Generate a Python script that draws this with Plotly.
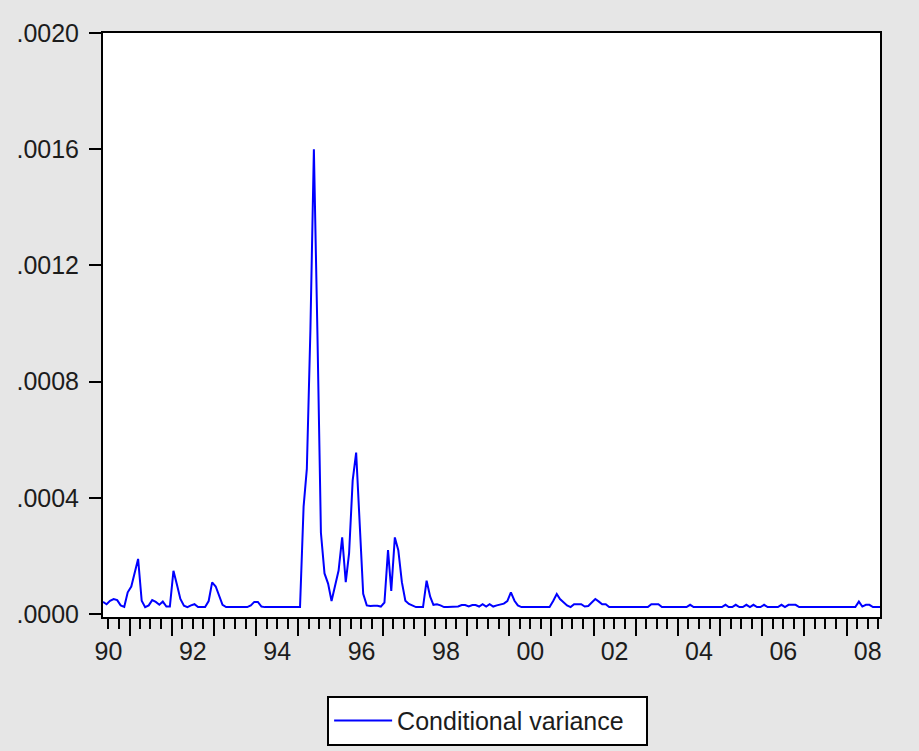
import plotly.graph_objects as go
import pandas as pd

# ---- data -------------------------------------------------------------
first_obs = "1990-05-16"          # monthly observations, 1990M05 .. 2008M10
cond_var = [
    # 1990 (May-Dec)
    4.2e-5, 3.4e-5, 4.6e-5, 5.2e-5, 4.8e-5, 3.0e-5, 2.5e-5, 7.5e-5,
    # 1991
    9.5e-5, 1.5e-4, 1.9e-4, 4.6e-5, 2.4e-5, 3.0e-5, 4.8e-5, 4.2e-5, 3.2e-5, 4.3e-5, 2.6e-5, 2.6e-5,
    # 1992
    1.49e-4, 1.0e-4, 5.2e-5, 2.9e-5, 2.4e-5, 3.0e-5, 3.4e-5, 2.4e-5, 2.4e-5, 2.4e-5, 4.5e-5, 1.09e-4,
    # 1993
    9.5e-5, 6.3e-5, 3.2e-5, 2.4e-5, 2.4e-5, 2.4e-5, 2.4e-5, 2.4e-5, 2.4e-5, 2.4e-5, 3.0e-5, 4.2e-5,
    # 1994
    4.2e-5, 2.6e-5, 2.4e-5, 2.4e-5, 2.4e-5, 2.4e-5, 2.4e-5, 2.4e-5, 2.4e-5, 2.4e-5, 2.4e-5, 2.4e-5,
    # 1995
    2.4e-5, 3.7e-4, 5.0e-4, 9.8e-4, 1.6e-3, 9.6e-4, 2.8e-4, 1.4e-4, 1.05e-4, 4.5e-5, 1.0e-4, 1.5e-4,
    # 1996
    2.64e-4, 1.1e-4, 2.1e-4, 4.6e-4, 5.56e-4, 2.8e-4, 7.0e-5, 3.0e-5, 2.8e-5, 2.9e-5, 2.9e-5, 2.6e-5,
    # 1997
    4.0e-5, 2.2e-4, 8.0e-5, 2.64e-4, 2.2e-4, 1.1e-4, 4.6e-5, 3.5e-5, 2.8e-5, 2.4e-5, 2.4e-5, 2.4e-5,
    # 1998
    1.15e-4, 6.0e-5, 3.2e-5, 3.4e-5, 3.0e-5, 2.4e-5, 2.4e-5, 2.4e-5, 2.4e-5, 2.6e-5, 3.1e-5, 3.1e-5,
    # 1999
    2.6e-5, 3.1e-5, 3.1e-5, 2.6e-5, 3.4e-5, 2.6e-5, 3.4e-5, 2.6e-5, 3.0e-5, 3.4e-5, 3.6e-5, 4.5e-5,
    # 2000
    7.5e-5, 4.6e-5, 3.0e-5, 2.4e-5, 2.4e-5, 2.4e-5, 2.4e-5, 2.4e-5, 2.4e-5, 2.4e-5, 2.4e-5, 2.4e-5,
    # 2001
    4.5e-5, 6.9e-5, 5.2e-5, 4.0e-5, 3.0e-5, 2.4e-5, 3.4e-5, 3.4e-5, 3.4e-5, 2.6e-5, 2.8e-5, 4.0e-5,
    # 2002
    5.2e-5, 4.3e-5, 3.4e-5, 3.4e-5, 2.4e-5, 2.4e-5, 2.4e-5, 2.4e-5, 2.4e-5, 2.4e-5, 2.4e-5, 2.4e-5,
    # 2003
    2.4e-5, 2.4e-5, 2.4e-5, 2.4e-5, 3.4e-5, 3.4e-5, 3.4e-5, 2.4e-5, 2.4e-5, 2.4e-5, 2.4e-5, 2.4e-5,
    # 2004
    2.4e-5, 2.4e-5, 2.4e-5, 3.2e-5, 2.4e-5, 2.4e-5, 2.4e-5, 2.4e-5, 2.4e-5, 2.4e-5, 2.4e-5, 2.4e-5,
    # 2005
    2.4e-5, 3.2e-5, 2.4e-5, 2.4e-5, 3.2e-5, 2.4e-5, 2.4e-5, 3.2e-5, 2.4e-5, 3.2e-5, 2.4e-5, 2.4e-5,
    # 2006
    3.2e-5, 2.4e-5, 2.4e-5, 2.4e-5, 2.4e-5, 3.2e-5, 2.4e-5, 3.2e-5, 3.2e-5, 3.2e-5, 2.4e-5, 2.4e-5,
    # 2007
    2.4e-5, 2.4e-5, 2.4e-5, 2.4e-5, 2.4e-5, 2.4e-5, 2.4e-5, 2.4e-5, 2.4e-5, 2.4e-5, 2.4e-5, 2.4e-5,
    # 2008 (Jan-Oct)
    2.4e-5, 2.4e-5, 2.4e-5, 4.3e-5, 2.6e-5, 3.2e-5, 3.2e-5, 2.4e-5, 2.4e-5, 2.4e-5,
]
series_name = "Conditional variance"

y_tick_vals = [0.0, 0.0004, 0.0008, 0.0012, 0.0016, 0.0020]
y_tick_text = [".0000", ".0004", ".0008", ".0012", ".0016", ".0020"]

year_ticks = list(range(1991, 2009))                 # year boundaries
label_years = [1990, 1992, 1994, 1996, 1998, 2000, 2002, 2004, 2006, 2008]
label_text = ["90", "92", "94", "96", "98", "00", "02", "04", "06", "08"]

# ---- figure -----------------------------------------------------------
dates = pd.date_range(start=first_obs, periods=len(cond_var), freq=pd.DateOffset(months=1))
x_range = [dates[0], dates[-1]]

FONT = "Liberation Sans, Arial, sans-serif"
TXT = "#1c1c1c"

fig = go.Figure()
fig.add_trace(go.Scatter(
    x=dates, y=cond_var, mode="lines", name=series_name,
    line=dict(color="#0000FF", width=2),
))
# helper trace so the label axis is drawn
fig.add_trace(go.Scatter(
    x=[dates[0]], y=[None], xaxis="x2", mode="lines",
    showlegend=False, hoverinfo="skip",
))

fig.update_layout(
    width=919, height=751,
    paper_bgcolor="#E6E6E6", plot_bgcolor="white",
    margin=dict(l=103, r=39, t=33, b=134, autoexpand=False),
    font=dict(family=FONT, size=25, color=TXT),
    showlegend=True,
    legend=dict(
        orientation="h", x=0.495, xanchor="center", y=-0.135, yanchor="top",
        bgcolor="white", bordercolor="black", borderwidth=2,
        itemwidth=58, entrywidth=244,
        font=dict(size=25, family=FONT, color=TXT),
    ),
    xaxis=dict(
        type="date", range=x_range,
        tickmode="array",
        tickvals=[f"{y}-01-01" for y in year_ticks],
        ticktext=["" for _ in year_ticks],
        ticks="outside", ticklen=17, tickwidth=2, tickcolor="black",
        minor=dict(ticks="outside", ticklen=10, tickwidth=2, tickcolor="black",
                   dtick="M3", tick0="1990-01-01", showgrid=False),
        showline=True, linecolor="black", linewidth=2, mirror=True,
        showgrid=False, zeroline=False,
    ),
    xaxis2=dict(
        type="date", range=x_range, overlaying="x", side="bottom",
        tickmode="array",
        tickvals=[f"{y}-07-02" for y in label_years],
        ticktext=label_text,
        ticks="outside", ticklen=12, tickcolor="rgba(0,0,0,0)",
        showline=False, showgrid=False, zeroline=False,
        tickfont=dict(size=25, family=FONT, color=TXT),
    ),
    yaxis=dict(
        range=[-0.00001, 0.0020],
        tickmode="array", tickvals=y_tick_vals, ticktext=y_tick_text,
        ticks="outside", ticklen=12, tickwidth=2, tickcolor="black",
        ticklabelstandoff=5,
        showline=True, linecolor="black", linewidth=2, mirror=True,
        showgrid=False, zeroline=False,
    ),
)

fig.write_html("out.html")
